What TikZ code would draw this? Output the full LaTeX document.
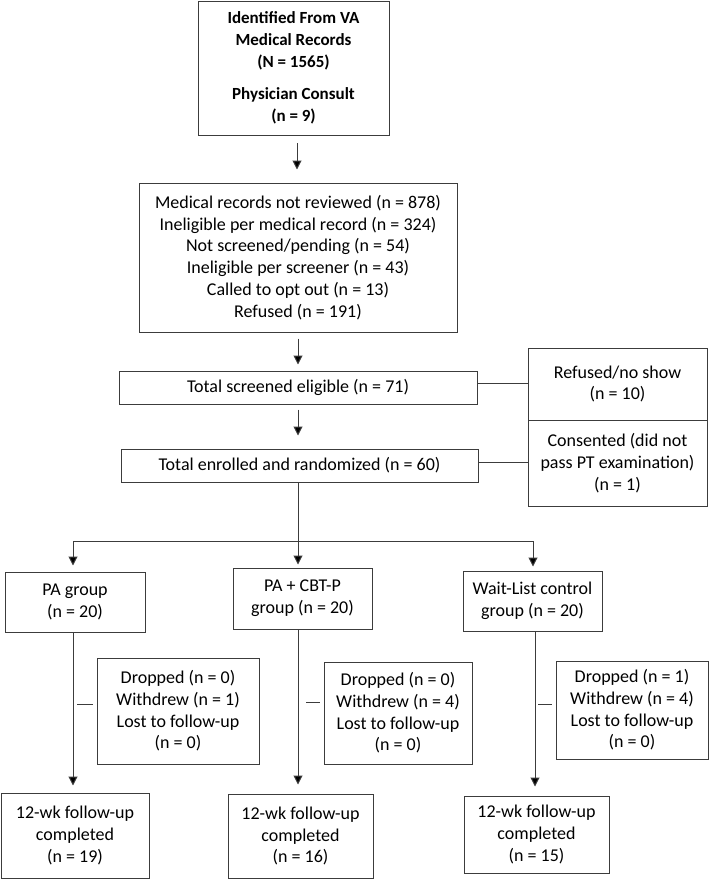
\documentclass[tikz,border=0pt]{standalone}
\usepackage{fontspec}
\setmainfont{Carlito}
\usetikzlibrary{arrows.meta,calc}
\definecolor{bord}{RGB}{60,60,60}
\begin{document}
\begin{tikzpicture}[x=1pt,y=-1pt,
  box/.style={draw=bord,line width=1pt,align=center,inner sep=0pt,font=\fontsize{18}{21.7}\selectfont},
  conn/.style={draw=bord,line width=1pt},
  arr/.style={conn,-{Triangle[width=9pt,length=9pt,fill=black]}}]
\useasboundingbox (0,0) rectangle (709,879);
% top
\node[box,font=\bfseries\fontsize{17}{22}\selectfont,minimum width=191,minimum height=134] (top) at (293.5,68)
  {Identified From VA\\Medical Records\\(N = 1565)\\[10pt]Physician Consult\\(n = 9)};
\node[box,minimum width=318,minimum height=149] (box2) at (298,257.5)
  {Medical records not reviewed (n = 878)\\Ineligible per medical record (n = 324)\\Not screened/pending (n = 54)\\Ineligible per screener (n = 43)\\Called to opt out (n = 13)\\Refused (n = 191)};
\node[box,minimum width=358,minimum height=33] (box3) at (298,387.5) {Total screened eligible (n = 71)};
\node[box,minimum width=357,minimum height=33] (box4) at (299.5,465.5) {Total enrolled and randomized (n = 60)};
\node[box,minimum width=179,minimum height=72] (r1) at (617.5,384) {Refused/no show\\(n = 10)};
\node[box,minimum width=179,minimum height=86] (r2) at (617.5,463) {Consented (did not\\pass PT examination)\\(n = 1)};
% groups
\node[box,minimum width=140,minimum height=60] (pa) at (75,602) {PA group\\(n = 20)};
\node[box,minimum width=139,minimum height=61] (cbt) at (302.5,598.5) {PA + CBT-P\\group (n = 20)};
\node[box,minimum width=139,minimum height=60] (wl) at (532.5,601) {Wait-List control\\group (n = 20)};
% dropped
\node[box,minimum width=162,minimum height=106] (d1) at (178,711) {Dropped (n = 0)\\Withdrew (n = 1)\\Lost to follow-up\\(n = 0)};
\node[box,minimum width=148,minimum height=102] (d2) at (398,713) {Dropped (n = 0)\\Withdrew (n = 4)\\Lost to follow-up\\(n = 0)};
\node[box,minimum width=152,minimum height=98] (d3) at (632,710) {Dropped (n = 1)\\Withdrew (n = 4)\\Lost to follow-up\\(n = 0)};
% follow-up
\node[box,minimum width=148,minimum height=85] (f1) at (75,835.5) {12-wk follow-up\\completed\\(n = 19)};
\node[box,minimum width=145,minimum height=84] (f2) at (300.5,836) {12-wk follow-up\\completed\\(n = 16)};
\node[box,minimum width=145,minimum height=77] (f3) at (536.5,834.5) {12-wk follow-up\\completed\\(n = 15)};
% connectors
\coordinate (c1) at (297,135);
\draw[arr,shorten <=8pt,shorten >=13pt] (c1) -- (c1 |- box2.north);
\draw[arr,shorten <=6pt,shorten >=6pt] (box2.south) -- (box3.north);
\draw[arr,shorten <=5pt,shorten >=13pt] (box3.south) -- (box3.south |- box4.north);
\coordinate (split) at (298,541);
\coordinate (sl) at (73,541);
\coordinate (sr) at (533,541);
\coordinate (vr) at (535,541);
\draw[conn] (box4.south -| split) -- (split);
\draw[conn] (sl) -- (sr);
\draw[arr,shorten >=6pt] (sl) -- (sl |- pa.north);
\draw[arr,shorten >=3pt] (split) -- (split |- cbt.north);
\draw[arr,shorten >=4pt] (sr) -- (sr |- wl.north);
\draw[arr,shorten >=7pt] (pa.south -| sl) -- (sl |- f1.north);
\draw[arr,shorten >=9pt] (cbt.south -| split) -- (split |- f2.north);
\draw[arr,shorten >=9pt] (wl.south -| vr) -- (vr |- f3.north);
% side lines
\coordinate (l1) at (477,383);
\draw[conn] (l1) -- (l1 -| r1.west);
\coordinate (l2) at (478,462);
\draw[conn] (l2) -- (l2 -| r2.west);
% dashes
\coordinate (da) at (73,704);
\draw[conn,shorten <=4pt,shorten >=4pt] (da) -- (da -| d1.west);
\coordinate (db) at (298,702);
\draw[conn,shorten <=8pt,shorten >=4pt] (db) -- (db -| d2.west);
\coordinate (dc) at (535,704);
\draw[conn,shorten <=3pt,shorten >=4pt] (dc) -- (dc -| d3.west);
\end{tikzpicture}
\end{document}
